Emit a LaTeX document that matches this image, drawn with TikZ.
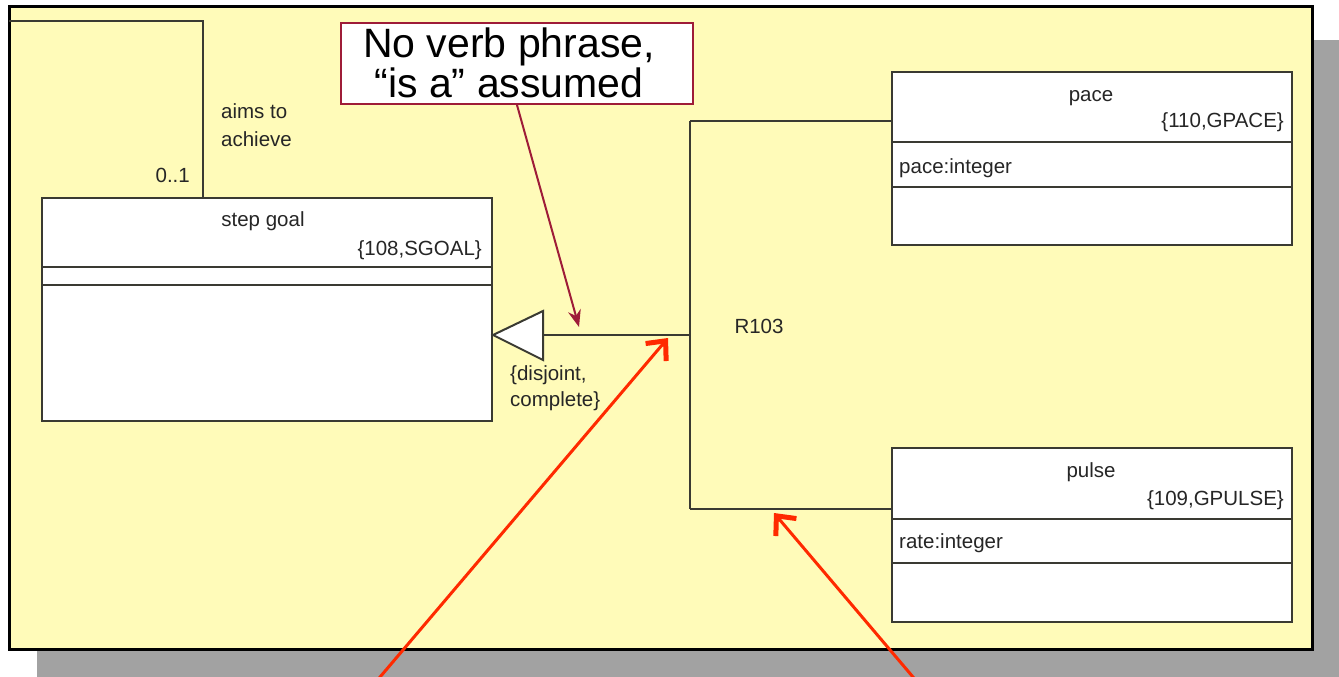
\documentclass[tikz,border=0pt]{standalone}
\usepackage{fontspec}
\setmainfont{Liberation Sans}
\usetikzlibrary{arrows.meta}
\definecolor{panel}{RGB}{255,251,185}
\definecolor{shadowgray}{RGB}{162,162,162}
\definecolor{umlline}{RGB}{58,58,50}
\definecolor{umltext}{RGB}{38,38,38}
\definecolor{notered}{RGB}{158,28,56}
\definecolor{callred}{RGB}{255,42,0}
\begin{document}
\begin{tikzpicture}[x=1pt,y=-1pt,
  umlbox/.style={draw=umlline, line width=2pt, fill=white, anchor=north west, inner sep=0pt},
  umlfont/.style={font=\fontsize{20.5}{24}\selectfont, text=umltext, inner sep=0pt},
  umlwire/.style={draw=umlline, line width=2pt},
  notebox/.style={draw=notered, line width=2pt, fill=white, inner sep=0pt},
  notefont/.style={font=\fontsize{41}{35}\selectfont, text=black, inner sep=0pt, align=center},
  noteptr/.style={draw=notered, line width=2pt, -{Stealth[length=17pt,width=13pt]}},
  callout/.style={draw=callred, line width=3pt, -{Straight Barb[length=15pt,width=27pt,line width=2pt 1]}}
]
\useasboundingbox (0,0) rectangle (1339,677);

% drop shadow and yellow sheet
\fill[shadowgray] (37,40) rectangle (1339,677);
\draw[fill=panel, line width=3pt] (9,7) rectangle (1312,649);

% class: step goal
\node[umlbox, minimum width=450pt, minimum height=223pt] (sg) at (41,197) {};
\draw[umlwire] (sg.west |- 0,267) -- (sg.east |- 0,267);
\draw[umlwire] (sg.west |- 0,285) -- (sg.east |- 0,285);
\node[umlfont, anchor=base] (sgname) at (263,226) {step goal};
\node[umlfont, anchor=base east] (sgid) at (482,255) {\{108,SGOAL\}};

% class: pace
\node[umlbox, minimum width=400pt, minimum height=173pt] (pace) at (891,71) {};
\draw[umlwire] (pace.west |- 0,142) -- (pace.east |- 0,142);
\draw[umlwire] (pace.west |- 0,187) -- (pace.east |- 0,187);
\node[umlfont, anchor=base] (pacename) at (1091,102) {pace};
\node[umlfont, anchor=base east] (paceid) at (1284,128) {\{110,GPACE\}};
\node[umlfont, anchor=base west] (paceattr) at (899,173) {pace:integer};

% class: pulse
\node[umlbox, minimum width=400pt, minimum height=174pt] (pulse) at (891,447) {};
\draw[umlwire] (pulse.west |- 0,519) -- (pulse.east |- 0,519);
\draw[umlwire] (pulse.west |- 0,563) -- (pulse.east |- 0,563);
\node[umlfont, anchor=base] (pulsename) at (1091,477) {pulse};
\node[umlfont, anchor=base east] (pulseid) at (1284,505) {\{109,GPULSE\}};
\node[umlfont, anchor=base west] (pulseattr) at (899,548) {rate:integer};

% association leaving the sheet at the top left
\coordinate (assocend) at (9,21);
\coordinate (sgtop) at (203,197);
\draw[umlwire] (assocend) -| (sgtop);
\node[umlfont, anchor=base west] (aims1) at (221,118) {aims to};
\node[umlfont, anchor=base west] (aims2) at (221,146) {achieve};
\node[umlfont, anchor=base east] (mult) at (190,182) {0..1};

% generalization R103
\coordinate (gtip) at (sg.east |- 0,335);
\coordinate (gbase) at (543,335);
\coordinate (gtop) at (690,121);
\coordinate (gmid) at (690,335);
\coordinate (gbot) at (690,509);
\draw[umlwire, fill=white, line join=miter] (gtip) -- (543,311) -- (543,360) -- cycle;
\draw[umlwire] (gbase) -- (gmid);
\draw[umlwire] (gtop) -- (gbot);
\draw[umlwire] (gtop) -- (pace.west |- gtop);
\draw[umlwire] (gbot) -- (pulse.west |- gbot);
\node[umlfont, anchor=base] (rel) at (759,333) {R103};
\node[umlfont, anchor=base west] (cons1) at (510,380) {\{disjoint,};
\node[umlfont, anchor=base west] (cons2) at (510,406) {complete\}};

% note
\node[notebox, minimum width=352pt, minimum height=81pt] (note) at (517,63.5) {};
\node[notefont, anchor=base] (notetext) at (509,97) {No verb phrase,\\“is a” assumed};
\coordinate (noteptrend) at (579,327);
\draw[noteptr] (note.south) -- (noteptrend);

% red pointers from below
\coordinate (calloutA) at (369,690);
\coordinate (calloutAtip) at (668,338);
\coordinate (calloutB) at (924,690);
\coordinate (calloutBtip) at (774,513);
\draw[callout] (calloutA) -- (calloutAtip);
\draw[callout] (calloutB) -- (calloutBtip);
\end{tikzpicture}
\end{document}
